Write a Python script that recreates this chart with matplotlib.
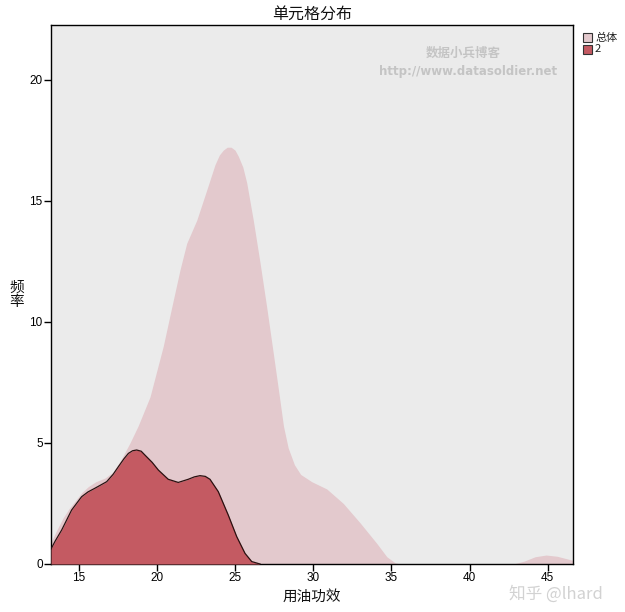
import matplotlib
matplotlib.use("Agg")
import matplotlib.pyplot as plt
from matplotlib.patches import Rectangle

plt.rcParams['font.family'] = ['Noto Sans CJK SC', 'DejaVu Sans']

# Density of 用油功效: all cells (总体)
overall_x = [13.23, 13.6, 14.0, 14.4, 14.77, 15.2, 15.62, 16.1, 16.68, 17.2, 17.7,
             18.28, 18.8, 19.56, 20.41, 20.95, 21.48, 21.91, 22.55, 23.19, 23.72,
             24.0, 24.25, 24.5, 24.75, 25.0, 25.21, 25.5, 25.75, 26.17, 26.6, 27.03,
             27.45, 27.8, 28.1, 28.4, 28.8, 29.2, 29.91, 30.87, 31.93, 33.0, 34.07,
             34.71, 35.24, 35.6, 42.8, 43.5, 44.2, 44.9, 45.6, 46.2, 46.62]
overall_y = [0.9, 1.4, 1.9, 2.3, 2.6, 2.95, 3.2, 3.4, 3.55, 3.8, 4.3,
             5.0, 5.7, 6.9, 9.0, 10.6, 12.15, 13.25, 14.2, 15.45, 16.5,
             16.9, 17.1, 17.22, 17.22, 17.1, 16.85, 16.4, 15.75, 14.2, 12.45, 10.6,
             8.7, 7.1, 5.7, 4.8, 4.1, 3.7, 3.4, 3.1, 2.5, 1.7, 0.85,
             0.3, 0.05, 0.0, 0.0, 0.12, 0.3, 0.37, 0.32, 0.22, 0.15]

# Density of group 2
group2_x = [13.23, 13.5, 13.91, 14.55, 15.19, 15.6, 16.04, 16.79, 17.2, 17.54, 17.9,
            18.18, 18.45, 18.71, 19.0, 19.24, 19.7, 20.1, 20.73, 21.37, 22.01,
            22.4, 22.76, 23.1, 23.4, 23.93, 24.57, 25.11, 25.64, 26.07, 26.6]
group2_y = [0.62, 0.95, 1.40, 2.23, 2.78, 2.98, 3.13, 3.40, 3.70, 4.02, 4.35,
            4.57, 4.68, 4.71, 4.66, 4.50, 4.20, 3.88, 3.50, 3.37, 3.50,
            3.60, 3.65, 3.62, 3.50, 2.99, 2.02, 1.13, 0.44, 0.10, 0.0]

x_ticks = [15, 20, 25, 30, 35, 40, 45]
y_ticks = [0, 5, 10, 15, 20]
legend_labels = ['总体', '2']

c_bg = '#EBEBEB'
c_all = '#E3C9CD'
c_grp = '#C45A62'

fig = plt.figure(figsize=(6.25, 6.12), dpi=100)
ax = fig.add_axes([51 / 625, 48 / 612, 522 / 625, 539 / 612])
ax.set_facecolor(c_bg)

ax.fill_between(overall_x, overall_y, 0, color=c_all, linewidth=0, zorder=2)
ax.fill_between(group2_x, group2_y, 0, color=c_grp, linewidth=0, zorder=3)
ax.plot(group2_x, group2_y, color='#2a1010', linewidth=0.9, zorder=4)

ax.set_xlim(13.23, 46.62)
ax.set_ylim(0, 22.27)
ax.set_xticks(x_ticks)
ax.set_yticks(y_ticks)
ax.tick_params(direction='out', length=5, width=1, color='black',
               labelsize=8.5, pad=1, labelfontfamily='Liberation Sans')
for s in ax.spines.values():
    s.set_color('black')
    s.set_linewidth(1.0)

fig.text(312 / 625, 1 - 14 / 612, '单元格分布', ha='center', va='center',
         fontsize=11.5, color='#111111')
fig.text(312 / 625, 1 - 597 / 612, '用油功效', ha='center', va='center',
         fontsize=10.5, color='#111111')
fig.text(17 / 625, 1 - 295 / 612, '频\n率', ha='center', va='center',
         fontsize=10.5, color='#111111', linespacing=0.95)

# legend boxes
for i, (lab, col) in enumerate(zip(legend_labels, [c_all, c_grp])):
    y0 = 33 + i * 12
    fig.patches.append(Rectangle((583 / 625, 1 - (y0 + 9) / 612), 9 / 625, 9 / 612,
                                 transform=fig.transFigure, facecolor=col,
                                 edgecolor='#333333', linewidth=0.8))
    fig.text(595 / 625, 1 - (y0 + 4.5) / 612, lab, ha='left', va='center',
             fontsize=8, color='#222222')

# blog watermark
fig.text(463 / 625, 1 - 53 / 612, '数据小兵博客', ha='center', va='center',
         fontsize=9, color='#C4C4C4', fontweight='bold')
fig.text(468 / 625, 1 - 72 / 612, 'http://www.datasoldier.net', ha='center',
         va='center', fontsize=8.5, color='#C4C4C4', fontweight='bold',
         family=['DejaVu Sans'])
# site watermark
fig.text(556 / 625, 1 - 594 / 612, '知乎 @lhard', ha='center', va='center',
         fontsize=12, color='#D2D2D2')

fig.savefig('out.png', dpi=100)
